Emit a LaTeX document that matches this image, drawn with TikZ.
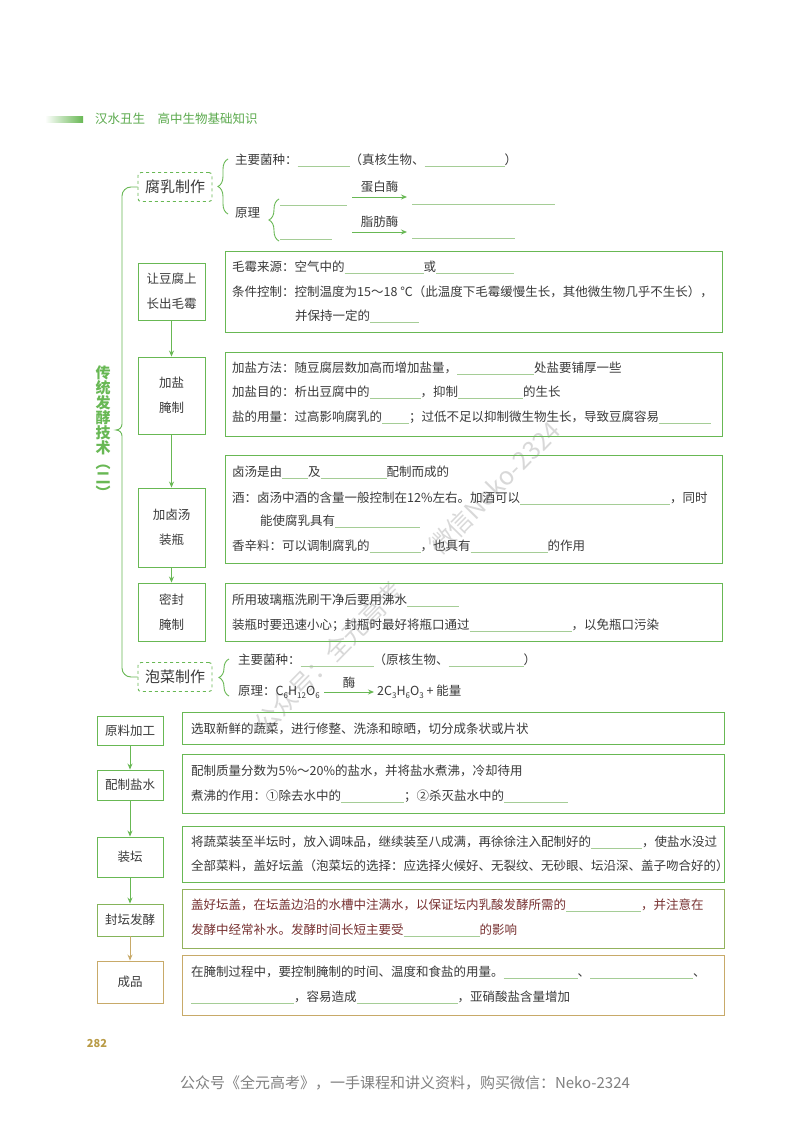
\documentclass[tikz,border=0pt]{standalone}
\usepackage{fontspec}
\setmainfont{Noto Sans CJK SC}
\usetikzlibrary{arrows.meta,decorations.pathreplacing}
\definecolor{PaoGreen}{RGB}{104,184,84}
\definecolor{PaoHead}{RGB}{92,170,78}
\definecolor{PaoText}{RGB}{58,58,58}
\definecolor{PaoBlank}{RGB}{165,205,150}
\definecolor{PaoTan}{RGB}{200,170,105}
\definecolor{PaoBrown}{RGB}{120,50,50}
\definecolor{PaoGold}{RGB}{185,155,70}
\newcommand\blank[1]{\textcolor{PaoBlank}{\rule[-2.5pt]{#1pt}{0.6pt}}}
\newcommand\sbs[1]{\raisebox{-2.5pt}{\fontsize{8}{8}\selectfont #1}}

\begin{document}
\begin{tikzpicture}[x=1pt,y=-1pt,
  txt/.style={anchor=west,inner sep=0pt,text=PaoText,font=\fontsize{12.5}{15}\selectfont},
  stepbox/.style n args={3}{draw=#1,line width=0.9pt,fill=white,minimum width=#2pt,minimum height=#3pt,inner sep=0pt,align=center,text=PaoText,font=\fontsize{12.5}{25}\selectfont},
  infobox/.style n args={3}{draw=#1,line width=0.9pt,minimum width=#2pt,minimum height=#3pt,inner sep=0pt},
  topic/.style={draw=PaoGreen,dashed,rounded corners=3pt,line width=0.9pt,minimum width=74pt,minimum height=29pt,inner sep=0pt,text=PaoText,font=\fontsize{15}{18}\selectfont},
  flow/.style={draw=#1,line width=0.9pt,-{Stealth[length=6pt,width=5pt]}},
  brc/.style={draw=PaoGreen,line width=0.9pt,decorate,decoration={brace,amplitude=10pt}},
  gap/.style={draw=PaoBlank,line width=0.6pt}]
\useasboundingbox[fill=white] (0,0) rectangle (800,1132);

% page header
\shade[left color=white,right color=PaoGreen] (45,116) rectangle (83,122);
\node[anchor=west,inner sep=0pt,text=PaoHead,font=\fontsize{12.5}{15}\selectfont] (head) at (95,119) {汉水丑生\quad 高中生物基础知识};

% watermark
\node[rotate=45.5,text=gray,opacity=0.3,font=\fontsize{25}{28}\selectfont] (wm) at (407,577) {公众号：全元高考\quad\quad 微信Neko-2324};

% left brace and title
\node[topic] (fr) at (175,187) {腐乳制作};
\node[topic] (pc) at (175,677) {泡菜制作};
\draw[PaoGreen,line width=0.9pt] (fr.west) -- (131,187) to[out=180,in=90] (122,196) -- (122,424)
   to[out=270,in=0] (116,430) to[out=0,in=90] (122,436) -- (122,668) to[out=270,in=180] (131,677) -- (pc.west);
\node[align=center,inner sep=0pt,text=PaoGreen,font=\bfseries\fontsize{15}{15}\selectfont] (title) at (103,432)
   {传\\统\\发\\酵\\技\\术\\︵\\二\\︶};

% fu ru
\draw[brc] (228,214) -- (228,159);
\node[txt] (fr1) at (235,160) {主要菌种：\blank{52}（真核生物、\blank{80}）};
\node[txt] (fr2) at (235,213) {原理};
\draw[brc] (279,241) -- (279,199);
\draw[gap] (280,205) -- (347,205);
\draw[gap] (280,239) -- (332,239);
\coordinate (ea) at (352,197);
\coordinate (eb) at (407,197);
\coordinate (ec) at (352,232);
\coordinate (ed) at (407,232);
\draw[flow=PaoGreen] (ea) -- node[above=4pt,inner sep=0pt,text=PaoText,font=\fontsize{12.5}{15}\selectfont] (dbm) {蛋白酶} (eb);
\draw[flow=PaoGreen] (ec) -- node[above=4pt,inner sep=0pt,text=PaoText,font=\fontsize{12.5}{15}\selectfont] (zfm) {脂肪酶} (ed);
\draw[gap] (412,204) -- (555,204);
\draw[gap] (412,238) -- (515,238);

% steps of fu ru
\node[stepbox={PaoGreen}{67}{57}] (s1) at (171.5,291.5) {让豆腐上\\长出毛霉};
\node[stepbox={PaoGreen}{67}{77}] (s2) at (171.5,395.5) {加盐\\腌制};
\node[stepbox={PaoGreen}{67}{79}] (s3) at (171.5,527.5) {加卤汤\\装瓶};
\node[stepbox={PaoGreen}{67}{58}] (s4) at (171.5,612) {密封\\腌制};
\foreach \a/\b in {s1/s2,s2/s3,s3/s4}
   \draw[flow=PaoGreen] (\a) -- (\b);

\node[infobox={PaoGreen}{497}{81}] (b1) at (473.5,291.5) {};
\node[txt] (b1a) at (232,267) {毛霉来源：空气中的\blank{79}或\blank{78}};
\node[txt] (b1b) at (232,292) {条件控制：控制温度为15～18 ℃（此温度下毛霉缓慢生长，其他微生物几乎不生长），};
\node[txt] (b1c) at (295,316) {并保持一定的\blank{49}};

\node[infobox={PaoGreen}{497}{84}] (b2) at (473.5,394) {};
\node[txt] (b2a) at (232,368) {加盐方法：随豆腐层数加高而增加盐量，\blank{77}处盐要铺厚一些};
\node[txt] (b2b) at (232,392) {加盐目的：析出豆腐中的\blank{51}，抑制\blank{65}的生长};
\node[txt] (b2c) at (232,417) {盐的用量：过高影响腐乳的\blank{27}；过低不足以抑制微生物生长，导致豆腐容易\blank{52}};

\node[infobox={PaoGreen}{497}{108}] (b3) at (473.5,509) {};
\node[txt] (b3a) at (232,472) {卤汤是由\blank{26}及\blank{66}配制而成的};
\node[txt] (b3b) at (232,498) {酒：卤汤中酒的含量一般控制在12\%左右。加酒可以\blank{150}，同时};
\node[txt] (b3c) at (260,521) {能使腐乳具有\blank{85}};
\node[txt] (b3d) at (232,546) {香辛料：可以调制腐乳的\blank{51}，也具有\blank{77}的作用};

\node[infobox={PaoGreen}{497}{58}] (b4) at (473.5,612) {};
\node[txt] (b4a) at (232,600) {所用玻璃瓶洗刷干净后要用沸水\blank{52}};
\node[txt] (b4b) at (232,625) {装瓶时要迅速小心；封瓶时最好将瓶口通过\blank{102}，以免瓶口污染};

% pao cai
\draw[brc] (229,696) -- (229,659);
\node[txt] (pc1) at (238,660) {主要菌种：\blank{73}（原核生物、\blank{75}）};
\node[txt] (pc2) at (238,692) {原理：C\sbs{6}H\sbs{12}O\sbs{6}};
\node[txt] (pc3) at (377,692) {2C\sbs{3}H\sbs{6}O\sbs{3} + 能量};
\draw[flow=PaoGreen] ([xshift=4pt]pc2.east) -- node[above=3pt,inner sep=0pt,text=PaoText,font=\fontsize{12.5}{15}\selectfont] (mei) {酶} ([xshift=-3pt]pc3.west);

% steps of pao cai
\node[stepbox={PaoGreen}{66}{29}] (yl) at (130,730.5) {原料加工};
\node[stepbox={PaoGreen}{66}{30}] (ps) at (130,785) {配制盐水};
\node[stepbox={PaoGreen}{66}{40}] (zt) at (130,857) {装坛};
\node[stepbox={PaoGreen!70!PaoTan}{66}{32}] (ft) at (130,920) {封坛发酵};
\node[stepbox={PaoTan}{66}{42}] (cp) at (130,982) {成品};
\foreach \a/\b/\c in {yl/ps/PaoGreen,ps/zt/PaoGreen,zt/ft/PaoGreen,ft/cp/PaoTan}
   \draw[flow=\c] (\a) -- (\b);

\node[infobox={PaoGreen}{542}{32}] (c1) at (453,728) {};
\node[txt] (c1a) at (191,729) {选取新鲜的蔬菜，进行修整、洗涤和晾晒，切分成条状或片状};

\node[infobox={PaoGreen}{542}{59}] (c2) at (453,783.5) {};
\node[txt] (c2a) at (191,771) {配制质量分数为5\%～20\%的盐水，并将盐水煮沸，冷却待用};
\node[txt] (c2b) at (191,796) {煮沸的作用：①除去水中的\blank{63}；②杀灭盐水中的\blank{64}};

\node[infobox={PaoGreen}{542}{56}] (c3) at (453,854) {};
\node[txt] (c3a) at (191,842) {将蔬菜装至半坛时，放入调味品，继续装至八成满，再徐徐注入配制好的\blank{51}，使盐水没过};
\node[txt] (c3b) at (191,866) {全部菜料，盖好坛盖（泡菜坛的选择：应选择火候好、无裂纹、无砂眼、坛沿深、盖子吻合好的）};

\node[infobox={PaoGreen!55!PaoTan}{542}{59}] (c4) at (453,918.5) {};
\node[txt,text=PaoBrown] (c4a) at (191,905) {盖好坛盖，在坛盖边沿的水槽中注满水，以保证坛内乳酸发酵所需的\blank{75}，并注意在};
\node[txt,text=PaoBrown] (c4b) at (191,930) {发酵中经常补水。发酵时间长短主要受\blank{76}的影响};

\node[infobox={PaoTan}{542}{60}] (c5) at (453,985) {};
\node[txt] (c5a) at (191,972) {在腌制过程中，要控制腌制的时间、温度和食盐的用量。\blank{74}、\blank{103}、};
\node[txt] (c5b) at (191,997) {\blank{103}，容易造成\blank{101}，亚硝酸盐含量增加};

% footer
\node[text=PaoGold,font=\bfseries\fontsize{11}{13}\selectfont] (page) at (97,1043) {282};
\node[text=gray,font=\fontsize{15}{18}\selectfont] (foot) at (405,1083) {公众号《全元高考》，一手课程和讲义资料，购买微信：Neko-2324};
\end{tikzpicture}
\end{document}
